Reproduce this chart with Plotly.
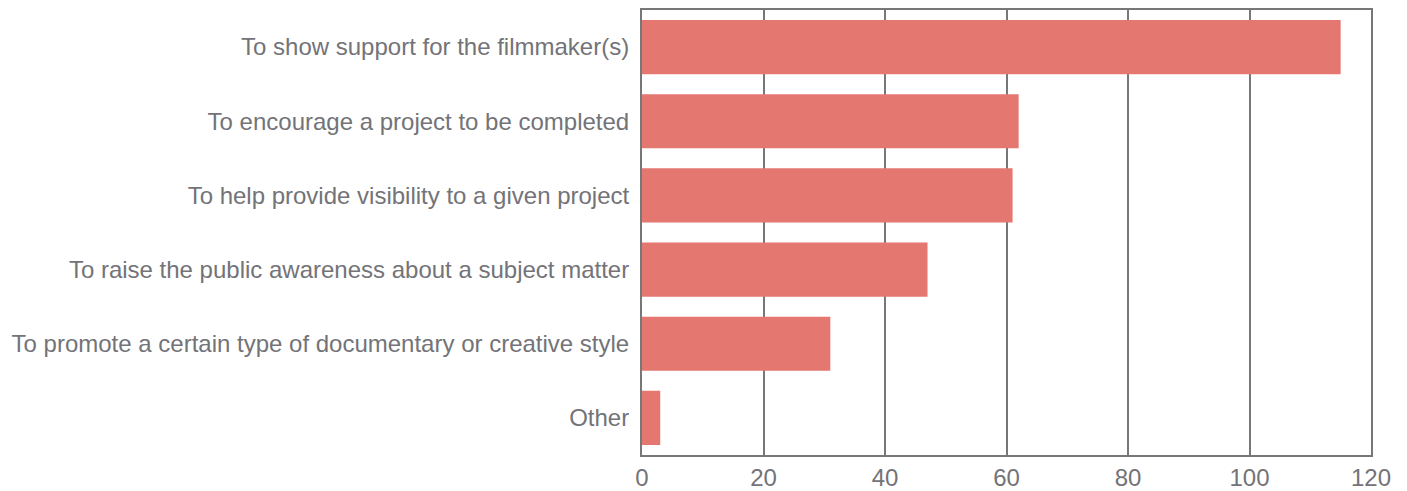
import plotly.graph_objects as go

categories = [
    "To show support for the filmmaker(s)",
    "To encourage a project to be completed",
    "To help provide visibility to a given project",
    "To raise the public awareness about a subject matter",
    "To promote a certain type of documentary or creative style",
    "Other",
]
counts = [115, 62, 61, 47, 31, 3]
x_ticks = [0, 20, 40, 60, 80, 100, 120]

fig = go.Figure(
    go.Bar(
        x=counts,
        y=categories,
        orientation="h",
        marker=dict(color="#E47770", line=dict(width=0)),
    )
)

fig.update_layout(
    width=1407,
    height=491,
    margin=dict(l=642, r=36, t=10, b=36),
    paper_bgcolor="white",
    plot_bgcolor="white",
    bargap=0.27,
    showlegend=False,
    font=dict(family="Liberation Sans, Arial, sans-serif", size=24, color="#737378"),
)

fig.update_xaxes(
    range=[0, 120],
    tickvals=x_ticks,
    showgrid=True,
    gridcolor="#777777",
    gridwidth=1.5,
    showline=True,
    linecolor="#777777",
    linewidth=2,
    mirror=True,
    zeroline=False,
    ticks="",
    ticklabelstandoff=0,
    automargin=False,
    tickfont=dict(size=24, color="#737378"),
    fixedrange=True,
)
fig.update_yaxes(
    autorange="reversed",
    showgrid=False,
    showline=True,
    linecolor="#777777",
    linewidth=2,
    mirror=True,
    ticks="",
    ticklabelstandoff=6,
    automargin=False,
    tickfont=dict(size=24, color="#737378"),
    fixedrange=True,
)

fig.write_html("out.html")
